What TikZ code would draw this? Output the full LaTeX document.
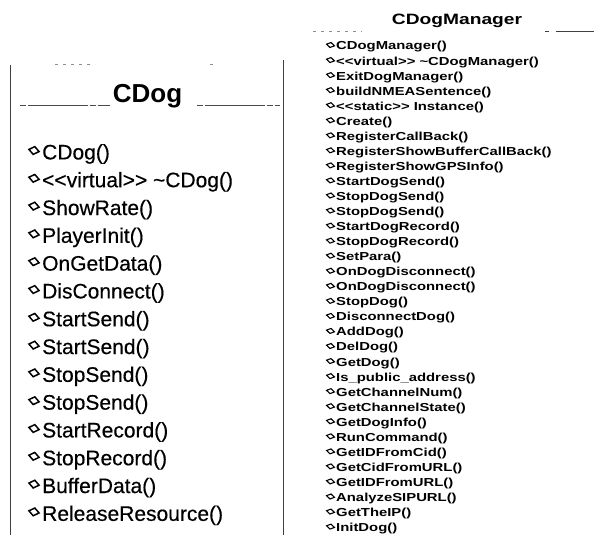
\documentclass[tikz,border=0pt]{standalone}
\usepackage{fontspec}
\setmainfont{Liberation Sans}
\newfontfamily\lstfont{Liberation Sans}[FakeBold=0.35]
\newfontfamily\mgrfont{Liberation Sans}[FakeStretch=1.28]
\usetikzlibrary{shapes.geometric}
\begin{document}
\begin{tikzpicture}[x=1pt,y=-1pt,
  boxline/.style={draw=black!75,line width=0.8pt},
  sepline/.style={draw=black!70,line width=0.8pt,dash pattern=on 6pt off 2pt on 60pt off 1.5pt},
  faint/.style={draw=black!45,line width=0.7pt,dash pattern=on 3pt off 5pt},
  ltext/.style={anchor=west,inner sep=0pt,font=\lstfont\fontsize{21}{21}\selectfont},
  rtext/.style={anchor=west,inner sep=0pt,font=\mgrfont\bfseries\fontsize{11.6}{12}\selectfont},
  ldia/.style={draw,diamond,line width=1.5pt,minimum width=11pt,minimum height=8.5pt,inner sep=0pt,rotate=-12},
  rdia/.style={draw,diamond,line width=1.1pt,minimum width=8.5pt,minimum height=5.5pt,inner sep=0pt,rotate=-12},
  titlel/.style={anchor=base,inner sep=0pt,font=\bfseries\fontsize{26}{26}\selectfont},
  titler/.style={anchor=base,inner sep=0pt,font=\mgrfont\bfseries\fontsize{15}{15}\selectfont}
]
\useasboundingbox (0,0) rectangle (594,535);

% CDog class box
\draw[boxline] (10,65) -- (10,535);
\draw[boxline] (283,60) -- (283,535);
\draw[faint] (55,64) -- (95,64);
\draw[faint] (210,64) -- (216,64);
\node[titlel] (cdogtitle) at (147.5,102) {CDog};
\draw[sepline] (20,105) -- (110,105);
\draw[sepline] (197,105) -- (280,105);

\foreach \t [count=\i] in {
  CDog(),
  {<\kern0pt<virtual>\kern0pt> \textasciitilde CDog()},
  ShowRate(),
  PlayerInit(),
  OnGetData(),
  DisConnect(),
  StartSend(),
  StartSend(),
  StopSend(),
  StopSend(),
  StartRecord(),
  StopRecord(),
  BufferData(),
  ReleaseResource()}{
  \node[ltext] (l\i) at (42,{154+(\i-1)*27.8}) {\t};
  \node[ldia] (ld\i) at (34,{154+(\i-1)*27.8-3.5}) {};
}

% CDogManager class
\node[titler] (mgrtitle) at (457,24.5) {CDogManager};
\draw[faint] (313,31) -- (362,31);
\draw[boxline,line width=0.6pt] (545,31) -- (549,31);
\draw[boxline,line width=0.6pt] (556,31) -- (594,31);

\foreach \t [count=\i] in {
  CDogManager(),
  {<\kern0pt<virtual>\kern0pt> \textasciitilde CDogManager()},
  ExitDogManager(),
  buildNMEASentence(),
  {<\kern0pt<static>\kern0pt> Instance()},
  Create(),
  RegisterCallBack(),
  RegisterShowBufferCallBack(),
  RegisterShowGPSInfo(),
  StartDogSend(),
  StopDogSend(),
  StopDogSend(),
  StartDogRecord(),
  StopDogRecord(),
  SetPara(),
  OnDogDisconnect(),
  OnDogDisconnect(),
  StopDog(),
  DisconnectDog(),
  AddDog(),
  DelDog(),
  GetDog(),
  Is\_public\_address(),
  GetChannelNum(),
  GetChannelState(),
  GetDogInfo(),
  RunCommand(),
  GetIDFromCid(),
  GetCidFromURL(),
  GetIDFromURL(),
  AnalyzeSIPURL(),
  GetTheIP(),
  InitDog()}{
  \node[rtext] (r\i) at (336,{47+(\i-1)*15.05}) {\t};
  \node[rdia] (rd\i) at (330.5,{47+(\i-1)*15.05-2}) {};
}
\end{tikzpicture}
\end{document}
